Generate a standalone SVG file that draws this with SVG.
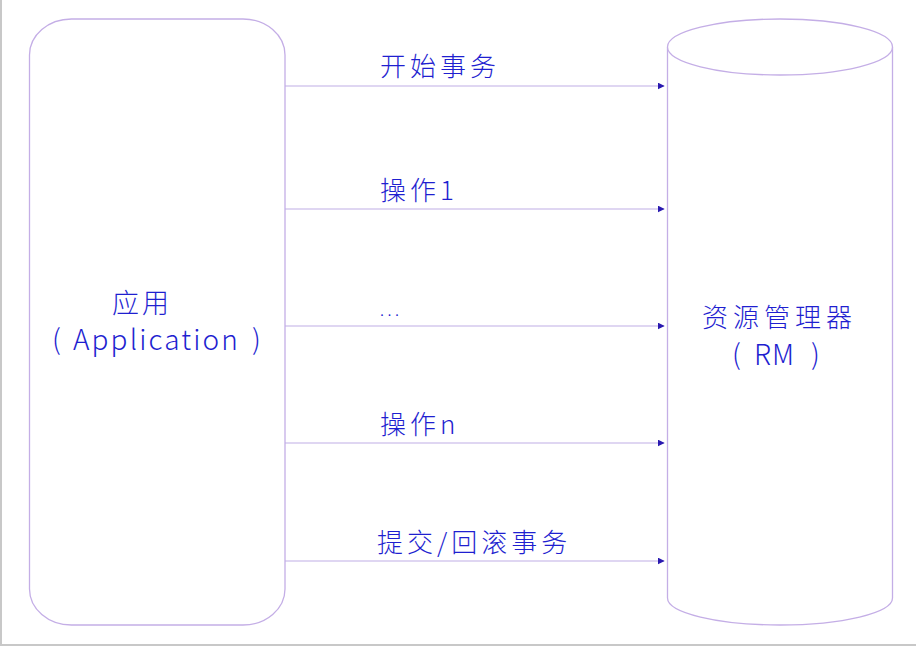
<svg xmlns="http://www.w3.org/2000/svg" width="916" height="646" viewBox="0 0 916 646">
<defs>
<style>
.shape{fill:#ffffff;stroke:#c4aee6;stroke-width:1.3}
.conn{stroke:#bfaee6;stroke-width:1.2;fill:none}
.t{font-family:"Noto Sans CJK SC","Noto Sans",sans-serif;fill:#1f1fd0;font-size:26px;font-weight:300}
.lbl{letter-spacing:4px}
</style>
<marker id="arr" viewBox="0 0 10 10" refX="9" refY="5" markerWidth="7" markerHeight="7" markerUnits="userSpaceOnUse" orient="auto">
<path d="M0,0 L10,5 L0,10 z" fill="#2a1ab0"/>
</marker>
</defs>
<rect x="0" y="0" width="916" height="646" fill="#ffffff"/>
<line x1="1" y1="0" x2="1" y2="646" stroke="#c8c8c8" stroke-width="2"/>
<line x1="0" y1="645" x2="916" y2="645" stroke="#c8c8c8" stroke-width="2"/>
<g id="app">
<rect class="shape" x="29.5" y="19" width="255.5" height="606" rx="42" ry="36"/>
<text class="t" x="112" y="313" style="letter-spacing:3px;font-size:27px">应用</text>
<text class="t" x="52" y="350" style="font-size:28px">(</text>
<text class="t" x="73" y="350" style="font-size:28px;letter-spacing:2.1px">Application</text>
<text class="t" x="252" y="350" style="font-size:28px">)</text>
</g>
<g id="rm">
<path class="shape" d="M667.5,47 V598 A112.5,27 0 0 0 892.5,598 V47"/>
<ellipse class="shape" cx="780" cy="47" rx="112.5" ry="28"/>
<text class="t" x="702" y="327" style="letter-spacing:5px">资源管理器</text>
<text class="t" x="732" y="365" style="font-size:28px">(</text>
<text class="t" x="754" y="365" style="font-size:28px;letter-spacing:1px">RM</text>
<text class="t" x="811" y="365" style="font-size:28px">)</text>
</g>
<g id="connectors">
<line class="conn" x1="285" y1="86" x2="664" y2="86" marker-end="url(#arr)"/>
<line class="conn" x1="285" y1="209" x2="664" y2="209" marker-end="url(#arr)"/>
<line class="conn" x1="285" y1="326" x2="664" y2="326" marker-end="url(#arr)"/>
<line class="conn" x1="285" y1="443" x2="664" y2="443" marker-end="url(#arr)"/>
<line class="conn" x1="285" y1="561" x2="664" y2="561" marker-end="url(#arr)"/>
</g>
<g id="labels">
<text class="t lbl" x="380" y="75.5">开始事务</text>
<text class="t lbl" x="380" y="199.5">操作1</text>
<text class="t" x="380" y="316" style="font-size:16px;letter-spacing:3.5px">...</text>
<text class="t lbl" x="380" y="434">操作n</text>
<text class="t lbl" x="377" y="552">提交/回滚事务</text>
</g>
</svg>
